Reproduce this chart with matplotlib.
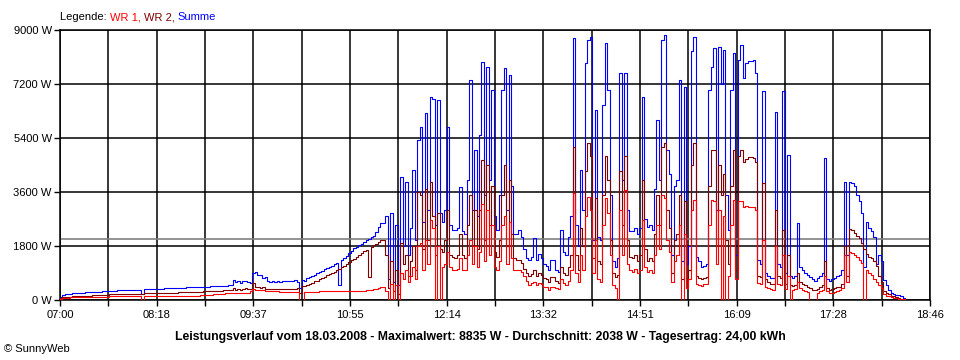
import matplotlib
matplotlib.use("Agg")
import matplotlib.pyplot as plt
import numpy as np

# one reading every 2 minutes, first one at 07:00
start_time = "07:00"
step_min = 2

# WR 1 (W)
wr1 = [
    40, 60, 60, 80, 100, 100, 100, 100, 100, 100,
    110, 110, 110, 110, 110, 110, 110, 110, 110, 110,
    120, 120, 120, 120, 120, 120, 120, 120, 120, 120,
    130, 130, 130, 0, 130, 130, 130, 130, 130, 130,
    130, 140, 140, 140, 140, 140, 140, 140, 140, 150,
    150, 150, 150, 150, 150, 150, 150, 160, 160, 170,
    170, 180, 190, 190, 200, 200, 210, 220, 230, 240,
    240, 240, 250, 250, 240, 250, 250, 300, 360, 340,
    330, 320, 320, 310, 300, 300, 290, 290, 290, 280,
    280, 280, 280, 270, 270, 270, 260, 0, 0, 280,
    280, 280, 280, 280, 280, 290, 290, 290, 290, 290,
    290, 290, 300, 300, 300, 300, 300, 300, 300, 300,
    300, 300, 310, 310, 320, 330, 340, 360, 380, 400,
    420, 440, 300, 0, 550, 0, 500, 0, 900, 700,
    1000, 600, 800, 1100, 700, 1800, 1900, 1000, 2000, 1200,
    2670, 2400, 0, 1800, 0, 1100, 1200, 1600, 1100, 1000,
    1000, 1050, 1400, 1000, 1000, 1500, 2000, 1200, 1800, 1100,
    1600, 3200, 1300, 3000, 1500, 2500, 1100, 1000, 1300, 2500,
    2800, 1200, 2600, 1400, 1000, 1000, 1000, 950, 800, 650,
    500, 560, 600, 500, 560, 550, 450, 420, 350, 450,
    450, 400, 380, 700, 560, 500, 650, 1000, 3560, 900,
    600, 1500, 1000, 2800, 3440, 3000, 900, 2000, 700, 600,
    2500, 3400, 2900, 1500, 500, 400, 0, 3000, 1500, 3670,
    1200, 1000, 950, 1050, 900, 1000, 2670, 1100, 950, 1000,
    900, 1500, 2500, 1700, 3500, 3400, 2000, 1600, 600, 1300,
    1500, 2500, 0, 2200, 400, 700, 3000, 3330, 550, 500,
    480, 520, 550, 2500, 3330, 3300, 1200, 3000, 0, 2800,
    0, 800, 2500, 3330, 700, 3300, 3300, 3100, 3150, 3100,
    3100, 3100, 3000, 560, 550, 2000, 450, 400, 380, 350,
    1800, 550, 500, 1500, 380, 800, 0, 350, 380, 600,
    400, 350, 300, 280, 0, 0, 0, 250, 300, 350,
    800, 300, 250, 250, 280, 300, 320, 400, 1500, 600,
    1610, 1580, 1500, 1420, 1330, 1220, 0, 1000, 900, 850,
    700, 600, 500, 400, 200, 150, 120, 100, 80, 60, 50, 30, 20, 0,
]

# WR 2 (W)
wr2 = [
    60, 100, 100, 110, 110, 120, 120, 130, 130, 140,
    140, 150, 150, 160, 160, 170, 170, 170, 180, 180,
    190, 190, 190, 200, 200, 200, 200, 210, 210, 210,
    210, 210, 210, 200, 220, 220, 220, 220, 220, 230,
    230, 230, 240, 240, 240, 250, 250, 250, 260, 260,
    260, 260, 270, 270, 270, 280, 280, 280, 290, 290,
    290, 300, 300, 300, 310, 310, 320, 320, 330, 330,
    400, 330, 380, 350, 360, 400, 380, 360, 560, 450,
    450, 400, 430, 380, 360, 360, 360, 370, 360, 360,
    370, 370, 380, 380, 370, 380, 390, 250, 470, 460,
    500, 540, 580, 620, 650, 700, 740, 780, 820, 860,
    900, 950, 1000, 1050, 1110, 1150, 1200, 1260, 1320, 1380,
    1450, 1500, 1560, 1620, 1680, 780, 1780, 1830, 1880, 1940,
    2000, 2000, 1500, 400, 1300, 300, 1000, 200, 1900, 1200,
    1500, 800, 1300, 1800, 1000, 3600, 3500, 1700, 3700, 2000,
    3940, 2800, 1500, 2900, 1700, 1600, 2000, 3000, 1500, 1440,
    1400, 1500, 2200, 1500, 1400, 2500, 3500, 1800, 3000, 1700,
    3000, 4670, 2000, 4500, 2500, 3800, 1600, 1440, 2000, 3500,
    4500, 1800, 4000, 2200, 1400, 1330, 1340, 1250, 1050, 900,
    800, 870, 1000, 800, 900, 850, 720, 700, 600, 780,
    780, 620, 580, 1100, 900, 850, 1100, 1500, 5110, 1500,
    1000, 2400, 1800, 4300, 5220, 4800, 1400, 3400, 1300, 1200,
    3500, 4800, 4000, 2000, 900, 780, 850, 4300, 2500, 4800,
    2000, 1440, 1400, 1500, 1300, 1500, 4000, 1700, 1300, 1400,
    1300, 2200, 3500, 2500, 5100, 5220, 3000, 2400, 900, 2000,
    2200, 3500, 700, 3300, 600, 1000, 4500, 5220, 800, 750,
    700, 750, 780, 3800, 5000, 5000, 1800, 4500, 3500, 4200,
    2000, 1200, 3800, 5000, 1000, 4800, 5000, 4600, 4700, 4780,
    4780, 4750, 4600, 800, 780, 3900, 700, 600, 550, 530,
    3000, 800, 750, 2330, 550, 1500, 500, 480, 500, 900,
    600, 550, 500, 450, 400, 350, 330, 380, 450, 500,
    1300, 400, 350, 380, 400, 420, 450, 550, 1800, 800,
    2360, 2330, 2250, 2150, 2060, 1900, 1700, 1550, 1450, 1400,
    1300, 1150, 800, 600, 300, 250, 200, 150, 120, 100, 80, 50, 30, 0,
]

# Summe (W)
summe = [
    100, 180, 190, 200, 210, 220, 230, 240, 250, 250,
    260, 260, 270, 270, 280, 280, 280, 290, 290, 300,
    300, 310, 310, 320, 320, 330, 330, 340, 340, 340,
    340, 350, 350, 200, 360, 360, 360, 370, 370, 370,
    380, 380, 390, 390, 390, 400, 400, 400, 410, 410,
    410, 420, 420, 420, 430, 430, 440, 440, 440, 450,
    450, 455, 460, 465, 470, 470, 480, 480, 490, 500,
    670, 600, 640, 560, 620, 650, 600, 560, 900, 940,
    820, 850, 720, 780, 640, 600, 620, 600, 620, 610,
    620, 620, 640, 640, 620, 660, 600, 400, 680, 650,
    730, 770, 810, 850, 900, 940, 980, 1020, 1060, 1100,
    1150, 1190, 1230, 500, 1330, 1400, 1480, 1560, 1640, 1720,
    1780, 1830, 1880, 1930, 1990, 2050, 2100, 2150, 2280, 2450,
    2560, 2560, 2800, 700, 2890, 600, 2500, 500, 4110, 1800,
    3950, 1500, 2400, 4330, 2000, 5330, 5780, 2600, 6220, 3000,
    6780, 6700, 2500, 6670, 2900, 2600, 3000, 5780, 2500, 2330,
    2330, 2400, 3780, 2300, 2200, 4000, 7330, 3000, 5000, 2800,
    5500, 7940, 3500, 7780, 4000, 7000, 2800, 2330, 3500, 7000,
    7720, 3000, 7500, 3800, 2200, 2200, 2330, 2100, 1700, 1400,
    1330, 1450, 2060, 1350, 1550, 1400, 1200, 1130, 1000, 1330,
    1330, 1000, 950, 2330, 1600, 1500, 2110, 2800, 8720, 2500,
    1800, 4330, 3000, 7890, 8670, 8780, 2000, 6330, 2100, 2000,
    6500, 8560, 7000, 3500, 1300, 1100, 1400, 7560, 4000, 7560,
    3000, 2300, 2300, 2400, 2200, 2400, 6780, 2700, 2440, 2500,
    2330, 3700, 6000, 4000, 8670, 8835, 5000, 4200, 1500, 3800,
    4000, 7330, 1300, 7110, 1200, 1800, 8300, 8780, 1440, 1300,
    1100, 1150, 1200, 7000, 7780, 8390, 3000, 8440, 7200, 8330,
    3500, 2330, 7000, 8220, 1500, 8000, 8500, 7400, 7890, 7950,
    7950, 8000, 7560, 1330, 1200, 6950, 900, 800, 750, 720,
    6280, 1200, 1100, 6950, 900, 4830, 800, 750, 800, 2560,
    1100, 1000, 900, 850, 780, 700, 650, 720, 800, 900,
    4720, 700, 650, 700, 750, 800, 850, 1000, 3950, 1500,
    3950, 3900, 3800, 3500, 3300, 2900, 1100, 2600, 2400, 2300,
    2110, 1200, 1500, 1300, 670, 500, 350, 230, 200, 180, 170, 120, 80, 0,
]

assert len(wr1) == len(wr2) == len(summe)

x_tick_labels = ["07:00", "08:18", "09:37", "10:55", "12:14",
                 "13:32", "14:51", "16:09", "17:28", "18:46"]
y_ticks = [0, 1800, 3600, 5400, 7200, 9000]
average_w = 2038
title = ("Leistungsverlauf vom 18.03.2008 - Maximalwert: 8835 W - "
         "Durchschnitt: 2038 W - Tagesertrag: 24,00 kWh")

plt.rcParams["font.family"] = ["Liberation Sans", "DejaVu Sans"]
plt.rcParams["font.size"] = 8

fig = plt.figure(figsize=(9.6, 3.6), dpi=100)
ax = fig.add_axes([60 / 960, 60 / 360, 870 / 960, 270 / 360])

span = 706  # minutes from 07:00 to 18:46
t = np.arange(len(summe)) * step_min

ax.plot(t, summe, color="#0000ff", lw=0.8, drawstyle="steps-post", zorder=2)
ax.plot(t, wr2, color="#800000", lw=0.8, drawstyle="steps-post", zorder=3)
ax.plot(t, wr1, color="#ff0000", lw=0.8, drawstyle="steps-post", zorder=4)
ax.axhline(average_w, color="#808080", lw=1.2, zorder=1)

all_ticks = np.linspace(0, span, 19)
ax.set_xticks(all_ticks[::2])
ax.set_xticklabels(x_tick_labels)
ax.set_xticks(all_ticks[1::2], minor=True)
ax.set_yticks(y_ticks)
ax.set_yticklabels([f"{v} W" for v in y_ticks])
ax.set_xlim(0, span)
ax.set_ylim(0, 9000)

ax.tick_params(which="both", direction="out", length=4, width=1, color="black")
ax.tick_params(axis="x", pad=3)
ax.tick_params(axis="y", pad=2)
ax.grid(which="both", color="black", lw=1.1, zorder=0)
ax.set_axisbelow(True)
for s in ax.spines.values():
    s.set_color("black")
    s.set_linewidth(1.1)

# legend line at the top
leg = fig.text(60 / 960, 1 - 17 / 360, "Legende: ", ha="left", va="center")
prev = leg
for txt, col in [("WR 1, ", "#ff0000"), ("WR 2, ", "#800000"), ("Summe", "#0000ff")]:
    prev = ax.annotate(txt, xycoords=prev, xy=(1, 0), va="bottom", ha="left", color=col)

fig.text(0.5, 1 - 337 / 360, title, ha="center", va="center",
         fontweight="bold", fontsize=8.8)
fig.text(4 / 960, 1 - 349 / 360, "\u00a9 SunnyWeb", ha="left", va="center")

fig.savefig("out.png", dpi=100)
